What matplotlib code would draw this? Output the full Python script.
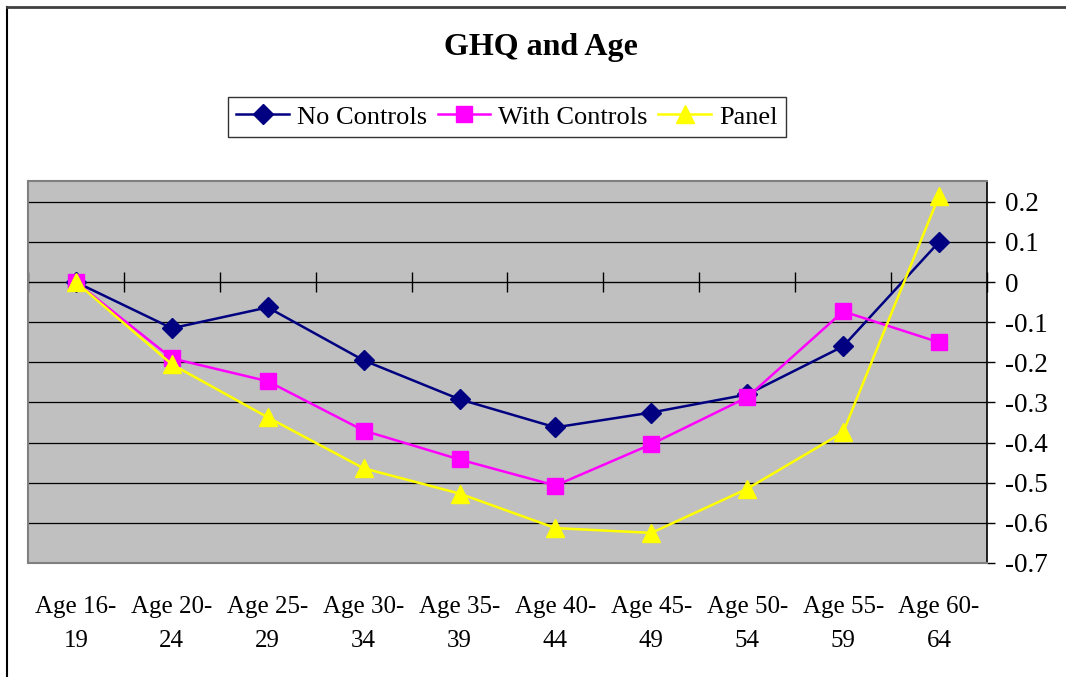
import matplotlib
matplotlib.use("Agg")
import matplotlib.pyplot as plt
from matplotlib.lines import Line2D

categories = ["Age 16-\n19", "Age 20-\n24", "Age 25-\n29", "Age 30-\n34", "Age 35-\n39",
              "Age 40-\n44", "Age 45-\n49", "Age 50-\n54", "Age 55-\n59", "Age 60-\n64"]
no_controls = [0.0, -0.115, -0.063, -0.195, -0.292, -0.362, -0.325, -0.28, -0.16, 0.10]
with_controls = [0.0, -0.19, -0.247, -0.37, -0.442, -0.507, -0.404, -0.287, -0.073, -0.15]
panel = [0.0, -0.205, -0.337, -0.464, -0.527, -0.613, -0.625, -0.515, -0.374, 0.215]
yticks = [0.2, 0.1, 0.0, -0.1, -0.2, -0.3, -0.4, -0.5, -0.6, -0.7]
ytick_labels = ["0.2", "0.1", "0", "-0.1", "-0.2", "-0.3", "-0.4", "-0.5", "-0.6", "-0.7"]

plt.rcParams['font.family'] = ['Liberation Serif', 'DejaVu Serif']

fig = plt.figure(figsize=(10.66, 6.77), dpi=100)
# outer chart border (top and left visible)
fig.add_artist(Line2D([7/1066, 7/1066], [0, 1 - 7/677], color='black', lw=1.5, transform=fig.transFigure))
fig.add_artist(Line2D([7/1066, 1], [1 - 7/677, 1 - 7/677], color='#404040', lw=2, transform=fig.transFigure))

ax = fig.add_axes([28/1066, 1 - 563/677, (987 - 28)/1066, (563 - 181)/677])
ax.set_facecolor('#C0C0C0')
ymin, ymax = -0.7, 0.252
ax.set_ylim(ymin, ymax)
ax.set_xlim(-0.5, len(categories) - 0.5)

x = list(range(len(categories)))
ax.plot(x, no_controls, color='#000080', lw=1.8, marker='D', ms=10, mfc='#000080', mec='#000080',
        label='No Controls', zorder=3, clip_on=False)
ax.plot(x, with_controls, color='#FF00FF', lw=1.8, marker='s', ms=11.5, mfc='#FF00FF', mec='#FF00FF',
        label='With Controls', zorder=4, clip_on=False)
ax.plot(x, panel, color='#FFFF00', lw=1.8, marker='^', ms=12.5, mfc='#FFFF00', mec='#FFFF00',
        label='Panel', zorder=5, clip_on=False)

# gridlines
for yv in yticks:
    ax.axhline(yv, color='black', lw=0.9, zorder=1)

# right y-axis
ax.yaxis.tick_right()
ax.set_yticks(yticks)
ax.set_yticklabels(ytick_labels, fontsize=19.5)
ax.tick_params(axis='y', direction='out', length=6, width=1, pad=7)

# x tick labels at bottom, no ticks
ax.set_xticks(x)
ax.set_xticklabels(categories, fontsize=18, linespacing=1.7)
ax.tick_params(axis='x', length=0, pad=23.5)

for s in ['top', 'left', 'bottom']:
    ax.spines[s].set_color('#808080')
    ax.spines[s].set_linewidth(1.5)
ax.spines['right'].set_color('black')
ax.spines['right'].set_linewidth(1.2)

# category axis crossing at y = 0 with boundary tick marks
sec = ax.secondary_xaxis((0 - ymin) / (ymax - ymin))
sec.set_xticks([i - 0.5 for i in range(len(categories) + 1)])
sec.set_xticklabels([])
sec.tick_params(direction='inout', length=14, width=1, color='black')
sec.spines['bottom'].set_color('black')
sec.spines['bottom'].set_linewidth(1)

fig.text(541/1066, 1 - 48/677, 'GHQ and Age', ha='center', va='center', fontsize=23, fontweight='bold')

leg = fig.legend(loc='center', bbox_to_anchor=(507/1066, 1 - 117/677), ncol=3, fontsize=19,
                 frameon=True, fancybox=False, edgecolor='black', handlelength=2.0,
                 handletextpad=0.3, columnspacing=0.4, borderpad=0.33, borderaxespad=0)
leg.get_frame().set_linewidth(1)

fig.savefig('out.png', dpi=100)
